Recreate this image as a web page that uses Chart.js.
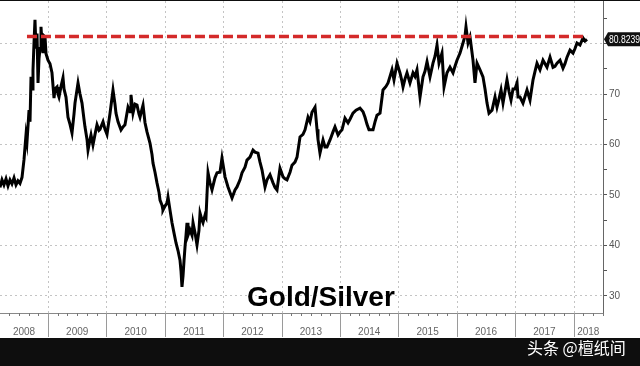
<!DOCTYPE html>
<html><head><meta charset="utf-8">
<script src="https://cdn.jsdelivr.net/npm/chart.js@4"></script>
<style>
html,body{margin:0;padding:0;background:#0e0e0e;width:640px;height:366px;overflow:hidden;}
#wrap{position:absolute;left:0;top:1px;width:640px;height:337px;background:#fff;}
#title{position:absolute;left:247px;top:283px;font:bold 28px/28px "Liberation Sans",Arial,sans-serif;color:#000;white-space:nowrap;}
#wm{position:absolute;left:527px;top:337px;font:16px/20px "Noto Sans CJK SC",sans-serif;color:#fff;white-space:nowrap;}
</style></head>
<body>
<div id="wrap"><canvas id="c" width="640" height="337"></canvas></div>
<div id="title">Gold/Silver</div>
<div id="wm">头条 @檀纸间</div>
<script>
// decimal-year dates of the traced points
const dates = [
2008.178,2008.212,2008.246,2008.281,2008.315,2008.349,2008.383,2008.418,2008.452,2008.486,2008.520,2008.555,
2008.589,2008.623,2008.640,2008.675,2008.692,2008.709,2008.726,2008.743,2008.760,2008.777,2008.794,2008.812,
2008.829,2008.846,2008.863,2008.880,2008.897,2008.914,2008.931,2008.949,2008.966,2009.000,2009.034,2009.068,
2009.103,2009.120,2009.154,2009.171,2009.188,2009.223,2009.257,2009.274,2009.308,2009.342,2009.377,2009.411,
2009.445,2009.462,2009.514,2009.548,2009.582,2009.616,2009.633,2009.668,2009.685,2009.719,2009.736,2009.770,
2009.805,2009.839,2009.873,2009.890,2009.942,2009.976,2010.010,2010.062,2010.113,2010.147,2010.164,2010.199,
2010.250,2010.284,2010.318,2010.370,2010.404,2010.421,2010.455,2010.490,2010.524,2010.558,2010.575,2010.609,
2010.627,2010.661,2010.695,2010.746,2010.781,2010.798,2010.832,2010.866,2010.901,2010.918,2010.952,2010.969,
2011.003,2011.038,2011.055,2011.089,2011.123,2011.157,2011.192,2011.226,2011.260,2011.277,2011.294,2011.312,
2011.329,2011.346,2011.363,2011.380,2011.397,2011.431,2011.466,2011.483,2011.517,2011.551,2011.585,2011.603,
2011.637,2011.654,2011.688,2011.705,2011.722,2011.740,2011.774,2011.808,2011.859,2011.894,2011.945,2011.979,
2012.031,2012.082,2012.116,2012.151,2012.202,2012.236,2012.288,2012.322,2012.373,2012.407,2012.459,2012.510,
2012.544,2012.596,2012.630,2012.664,2012.716,2012.750,2012.801,2012.853,2012.887,2012.921,2012.972,2013.024,
2013.058,2013.092,2013.144,2013.178,2013.229,2013.264,2013.315,2013.366,2013.401,2013.452,2013.486,2013.520,
2013.572,2013.606,2013.623,2013.657,2013.709,2013.743,2013.777,2013.829,2013.880,2013.914,2013.966,2014.000,
2014.034,2014.085,2014.137,2014.171,2014.222,2014.274,2014.342,2014.394,2014.428,2014.462,2014.496,2014.565,
2014.599,2014.633,2014.685,2014.736,2014.787,2014.822,2014.856,2014.890,2014.924,2014.976,2015.027,2015.061,
2015.079,2015.113,2015.147,2015.198,2015.250,2015.284,2015.318,2015.370,2015.421,2015.455,2015.490,2015.541,
2015.592,2015.627,2015.661,2015.695,2015.746,2015.781,2015.832,2015.883,2015.935,2015.969,2016.003,2016.055,
2016.106,2016.140,2016.157,2016.192,2016.226,2016.277,2016.311,2016.346,2016.397,2016.448,2016.483,2016.517,
2016.551,2016.603,2016.654,2016.688,2016.722,2016.757,2016.791,2016.825,2016.859,2016.894,2016.928,2016.962,
2016.996,2017.031,2017.048,2017.082,2017.133,2017.168,2017.202,2017.253,2017.305,2017.339,2017.373,2017.424,
2017.476,2017.510,2017.544,2017.596,2017.647,2017.681,2017.716,2017.767,2017.818,2017.852,2017.887,2017.938,
2017.990,2018.024,2018.058,2018.109,2018.161,2018.195,2018.229
];
// gold/silver ratio values
const ratio = [
51.5,53.0,52.0,53.2,51.8,53.0,52.2,53.4,52.0,52.8,52.3,53.5,
57.0,61.9,60.5,66.8,64.5,73.4,71.0,74.7,80.0,84.7,79.0,82.0,
72.2,77.0,79.0,83.3,80.0,78.1,81.5,81.3,78.0,76.7,76.0,74.2,
69.2,71.0,71.4,70.0,69.4,71.5,73.2,71.0,69.4,65.4,64.0,62.3,
66.0,68.2,72.2,70.0,68.2,65.0,63.5,61.0,58.9,61.0,61.9,59.9,
62.0,63.9,62.8,63.0,64.5,63.0,62.0,66.2,70.8,68.0,66.2,64.5,
62.9,63.5,63.9,67.4,66.5,69.8,66.2,68.0,67.8,66.0,65.4,67.0,
67.8,64.3,62.5,60.3,58.0,56.3,54.5,52.4,50.5,49.0,48.0,47.0,
47.8,48.4,49.6,47.0,44.5,42.5,40.5,39.0,37.1,35.0,31.8,34.0,
37.0,39.7,42.0,44.5,42.0,43.1,42.0,44.5,42.5,40.1,43.0,46.4,
45.0,44.5,46.0,45.6,50.0,54.4,52.4,51.0,53.4,54.4,54.5,57.3,
53.6,51.6,50.5,49.4,51.0,51.6,53.0,54.4,55.5,56.9,57.5,58.9,
58.5,58.3,56.5,55.0,51.6,53.0,54.0,52.4,51.5,51.0,55.3,53.6,
53.2,53.0,54.5,55.9,56.5,57.5,61.5,62.0,62.9,65.4,64.5,66.4,
67.4,63.0,61.0,58.3,60.9,59.5,59.5,60.9,62.5,63.5,61.9,62.5,
62.9,65.2,64.3,65.0,66.2,66.8,67.2,66.5,65.4,64.0,62.9,62.9,
64.5,65.8,66.2,70.8,71.5,72.2,73.5,74.8,72.8,76.1,74.2,72.5,
71.4,73.0,74.2,72.2,74.2,73.5,74.8,69.4,73.4,74.5,76.4,73.4,
76.1,77.5,79.7,76.1,78.1,71.4,74.2,75.3,74.2,75.5,76.7,78.1,
80.1,81.5,83.3,80.1,81.3,76.7,72.2,76.1,74.8,73.4,71.0,68.2,
66.2,66.8,69.4,67.4,69.0,70.8,68.2,70.5,72.8,70.5,68.8,71.0,
71.0,72.2,69.4,69.4,68.2,69.5,70.8,68.8,72.8,74.5,76.1,74.8,
76.7,76.0,75.3,77.3,75.3,75.5,76.1,76.7,75.1,76.0,77.3,78.7,
78.1,79.0,80.1,79.7,81.1,80.5,80.8239
];
const yearLabels = ['2008','2009','2010','2011','2012','2013','2014','2015','2016','2017','2018'];
const yearBounds = [2009,2010,2011,2012,2013,2014,2015,2016,2017,2018];
const yTicks = [30,35,40,45,50,55,60,65,70,75,80,85];
const levelValue = 81.4;
const levelSpan = [2008.64, 2018.23];
const xMin = 2008.178, xMax = 2018.503;
const yMin = 26.63, yMax = 88.42;
const FONT = '"Liberation Sans", Arial, sans-serif';

// label position: centre of the visible part of each year
const yearLabelPos = yearLabels.map(l => { const s = Math.max(+l, xMin), e = Math.min(+l + 1, xMax); return (s + e) / 2; });

const decor = {
  id: 'decor',
  beforeDatasetsDraw(chart) {
    const {ctx, chartArea: a, scales: {x}} = chart;
    ctx.save();
    ctx.strokeStyle = '#c4c4c4'; ctx.lineWidth = 1; ctx.setLineDash([2, 3]);
    yearBounds.forEach(yr => {
      const px = Math.round(x.getPixelForValue(yr)) + 0.5;
      ctx.beginPath(); ctx.moveTo(px, a.top); ctx.lineTo(px, a.bottom); ctx.stroke();
    });
    ctx.restore();
  },
  afterDraw(chart) {
    const {ctx, chartArea: a, scales: {x, y}} = chart;
    ctx.save();
    ctx.strokeStyle = '#9a9a9a'; ctx.lineWidth = 1;
    yearBounds.forEach(yr => {
      const px = Math.round(x.getPixelForValue(yr)) + 0.5;
      ctx.beginPath(); ctx.moveTo(px, a.bottom); ctx.lineTo(px, a.bottom + 24); ctx.stroke();
    });
    ctx.strokeStyle = '#777';
    for (let yr = 2008; yr < 2019; yr++) {
      for (let k = 1; k < 6; k++) {
        const v = yr + k / 6;
        if (v <= xMin || v >= xMax) continue;
        const px = Math.round(x.getPixelForValue(v)) + 0.5;
        ctx.beginPath(); ctx.moveTo(px, a.bottom); ctx.lineTo(px, a.bottom + 3); ctx.stroke();
      }
    }
    const last = ratio[ratio.length - 1];
    const py = y.getPixelForValue(last);
    ctx.fillStyle = '#111';
    ctx.beginPath();
    ctx.moveTo(a.right + 1, py); ctx.lineTo(a.right + 5, py - 7); ctx.lineTo(640, py - 7);
    ctx.lineTo(640, py + 7); ctx.lineTo(a.right + 5, py + 7); ctx.closePath(); ctx.fill();
    ctx.fillStyle = '#fff'; ctx.font = '10px ' + FONT; ctx.textBaseline = 'middle'; ctx.textAlign = 'left';
    ctx.fillText(last.toFixed(4), a.right + 6, py + 0.5, 31);
    ctx.restore();
  }
};

new Chart(document.getElementById('c'), {
  type: 'line',
  data: { datasets: [
    { label: 'level', data: [{x: levelSpan[0], y: levelValue}, {x: levelSpan[1], y: levelValue}],
      borderColor: '#d42a2a', borderWidth: 3.5, borderDash: [10, 4], pointRadius: 0, order: 0 },
    { label: 'Gold/Silver', data: dates.map((d, i) => ({x: d, y: ratio[i]})),
      borderColor: '#000', borderWidth: 3, pointRadius: 0, tension: 0, order: 1 }
  ]},
  options: {
    responsive: false, animation: false, layout: { padding: 0 },
    plugins: { legend: { display: false }, tooltip: { enabled: false } },
    scales: {
      x: { type: 'linear', min: xMin, max: xMax,
        afterFit(s) { s.height = 25; s.paddingLeft = 0; s.paddingRight = 0; },
        afterBuildTicks(s) { s.ticks = yearLabelPos.map(v => ({value: v})); },
        ticks: { autoSkip: false, maxRotation: 0, minRotation: 0, color: '#666', font: {size: 10, family: FONT}, padding: 5,
          callback: (v, i) => yearLabels[i] },
        grid: { display: false }, border: { display: true, color: '#888', width: 1 } },
      y: { position: 'right', min: yMin, max: yMax,
        afterFit(s) { s.width = 37; s.paddingTop = 0; s.paddingBottom = 0; },
        afterBuildTicks(s) { s.ticks = yTicks.map(v => ({value: v})); },
        ticks: { autoSkip: false, color: '#555', font: {size: 10, family: FONT}, padding: 2,
          callback: v => (v % 10 === 0 ? String(v) : '') },
        grid: { color: c => (c.tick && c.tick.value % 10 === 0 ? '#c4c4c4' : 'rgba(0,0,0,0)'), lineWidth: 1,
          tickColor: '#555', tickLength: 4, tickBorderDash: [], drawTicks: true },
        border: { display: true, color: '#666', width: 1, dash: [2, 3] } }
    }
  },
  plugins: [decor]
});
</script>
</body></html>
